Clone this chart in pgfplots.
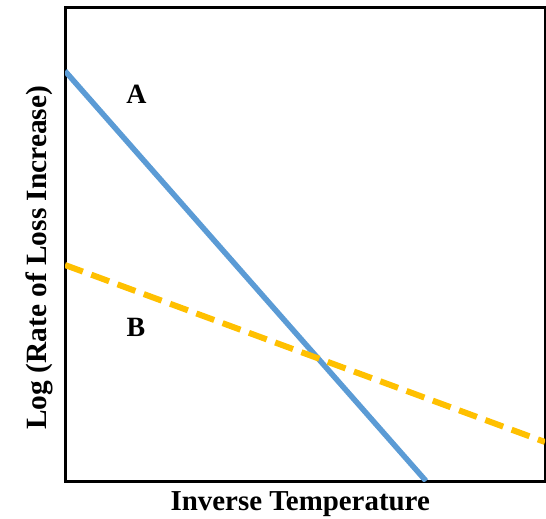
\documentclass[border=0pt]{standalone}
\usepackage{fontspec}
\setmainfont{Liberation Serif}
\usepackage{pgfplots}
\pgfplotsset{compat=1.18}
\usetikzlibrary{calc}
\definecolor{lineA}{HTML}{5B9BD5}
\definecolor{lineB}{HTML}{FFC000}
\begin{document}
\begin{tikzpicture}
\begin{axis}[
  name=ax,
  width=480bp, height=473bp, scale only axis,
  xmin=0, xmax=480, ymin=0, ymax=473,
  xtick=\empty, ytick=\empty,
  axis line style={line width=3bp, black},
  xlabel={\fontsize{29}{32}\selectfont\bfseries Inverse Temperature},
  ylabel={\fontsize{29.5}{32}\selectfont\bfseries Log (Rate of Loss Increase)},
  xlabel style={at={(axis description cs:0.49,0)}, anchor=north, yshift=-7bp},
  ylabel style={at={(axis description cs:0,0.472)}, anchor=south, yshift=8bp},
]
\addplot[lineA, line width=5.5bp] coordinates {(0,410) (361,0)};
\addplot[lineB, line width=6bp, dash pattern=on 19bp off 9bp] coordinates {(0,216) (480,39)};
\node[font=\fontsize{28}{32}\selectfont\bfseries] at (axis cs:71.5,386.5) {A};
\node[font=\fontsize{28}{32}\selectfont\bfseries] at (axis cs:71,153.5) {B};
\end{axis}
\pgfresetboundingbox
\path ($(ax.south west)+(-65bp,-37bp)$) rectangle ($(ax.north east)+(1bp,8bp)$);
\end{tikzpicture}
\end{document}
